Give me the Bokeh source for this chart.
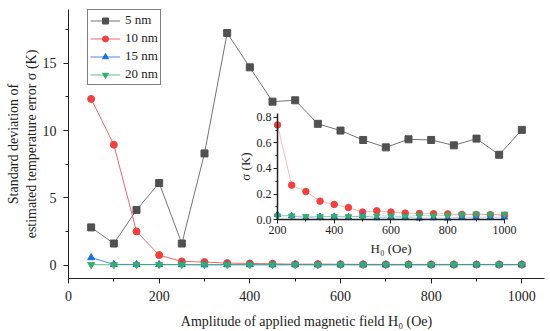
from bokeh.plotting import figure
from bokeh.models import Range1d, LinearAxis, SingleIntervalTicker, NumeralTickFormatter
from bokeh.embed import file_html
from bokeh.resources import INLINE

# ---------------- data ----------------
field = [50, 100, 150, 200, 250, 300, 350, 400, 450, 500,
         550, 600, 650, 700, 750, 800, 850, 900, 950, 1000]
sd_5nm = [2.8, 1.6, 4.1, 6.1, 1.6, 8.3, 17.25, 14.7, 12.15, 12.25,
          10.5, 10.0, 9.3, 8.75, 9.35, 9.3, 8.9, 9.4, 8.2, 10.05]
sd_10nm = [12.35, 8.95, 2.5, 0.74, 0.27, 0.22, 0.145, 0.12, 0.095, 0.06,
           0.07, 0.06, 0.052, 0.048, 0.047, 0.046, 0.042, 0.04, 0.04, 0.035]
sd_15nm = [0.55, 0.05, 0.04, 0.04, 0.03, 0.015, 0.025, 0.025, 0.02, 0.03,
           0.015, 0.02, 0.02, 0.012, 0.015, 0.012, 0.02, 0.02, 0.02, 0.02]
sd_20nm = [0.03, 0.02, 0.025, 0.03, 0.03, 0.025, 0.025, 0.025, 0.025, 0.025,
           0.03, 0.03, 0.025, 0.035, 0.03, 0.035, 0.04, 0.045, 0.04, 0.045]
series_labels = ["5 nm", "10 nm", "15 nm", "20 nm"]
colors = ["#515151", "#F14040", "#1A6FDF", "#37AD6B"]
markers = ["square", "circle", "triangle", "inverted_triangle"]
inset_start = 200

FONT = "Liberation Serif"
AXC = "#222222"

p = figure(width=550, height=331, output_backend="svg", toolbar_location=None,
           x_range=Range1d(0, 1050), y_range=Range1d(-1, 19),
           min_border_left=68, min_border_right=6, min_border_top=9, min_border_bottom=53)
p.outline_line_color = None
p.grid.visible = False
p.background_fill_color = "white"

# inset coordinate system (extra ranges spanning the whole frame)
p.extra_x_ranges = {"ix": Range1d(-536.6, 1141.0)}
p.extra_y_ranges = {"iy": Range1d(-0.458, 1.64)}

# main axes
for ax in (p.xaxis[0], p.yaxis[0]):
    ax.axis_line_color = AXC
    ax.major_tick_line_color = AXC
    ax.minor_tick_line_color = AXC
    ax.major_tick_out = 5
    ax.major_tick_in = 0
    ax.minor_tick_out = 3
    ax.minor_tick_in = 0
    ax.major_label_text_font = FONT
    ax.major_label_text_font_size = "14px"
    ax.major_label_text_color = AXC
    ax.axis_label_text_font = FONT
    ax.axis_label_text_font_size = "14px"
    ax.axis_label_text_font_style = "normal"
    ax.axis_label_text_color = AXC

p.xaxis[0].ticker = SingleIntervalTicker(interval=200, num_minor_ticks=2)
p.yaxis[0].ticker = SingleIntervalTicker(interval=5, num_minor_ticks=2)
p.xaxis[0].axis_label = "Amplitude of applied magnetic field H\u2080 (Oe)"
p.yaxis[0].axis_label = "Standard deviation of\nestimated temperature error \u03c3 (K)"
p.xaxis[0].major_label_standoff = 7
p.xaxis[0].axis_label_standoff = 10
p.yaxis[0].major_label_standoff = 7
p.yaxis[0].axis_label_standoff = 1

# main series
main_vals = [sd_5nm, sd_10nm, sd_15nm, sd_20nm]
for vals, lab, col, mk in zip(main_vals, series_labels, colors, markers):
    p.line(field, vals, line_color=col, line_width=1, line_alpha=0.8, legend_label=lab)
    p.scatter(field, vals, marker=mk, size=7, fill_color=col, line_color=col, legend_label=lab)

# inset series (10, 15, 20 nm from 200 Oe)
i0 = field.index(inset_start)
ix = field[i0:]
for vals, col, mk in zip(main_vals[1:], colors[1:], markers[1:]):
    p.line(ix, vals[i0:], line_color=col, line_width=1, line_alpha=0.35,
           x_range_name="ix", y_range_name="iy")
    p.scatter(ix, vals[i0:], marker=mk, size=6.5, fill_color=col, line_color=col,
              x_range_name="ix", y_range_name="iy")

# inset axes
iax = LinearAxis(x_range_name="ix", y_range_name="iy", fixed_location=0,
                 bounds=(200, 1000),
                 ticker=SingleIntervalTicker(interval=200, num_minor_ticks=2),
                 axis_label="H\u2080 (Oe)")
iay = LinearAxis(x_range_name="ix", y_range_name="iy", fixed_location=200,
                 bounds=(0, 0.83),
                 ticker=SingleIntervalTicker(interval=0.2, num_minor_ticks=2),
                 formatter=NumeralTickFormatter(format="0.0"),
                 axis_label="\u03c3 (K)")
for ax in (iax, iay):
    ax.axis_line_color = AXC
    ax.axis_line_width = 1.5
    ax.major_tick_line_color = AXC
    ax.minor_tick_line_color = AXC
    ax.major_tick_out = 4
    ax.major_tick_in = 0
    ax.minor_tick_out = 2
    ax.minor_tick_in = 0
    ax.major_label_text_font = FONT
    ax.major_label_text_font_size = "12px"
    ax.major_label_text_color = AXC
    ax.axis_label_text_font = FONT
    ax.axis_label_text_font_size = "13px"
    ax.axis_label_text_font_style = "normal"
    ax.axis_label_text_color = AXC
    ax.major_label_standoff = 2
    ax.axis_label_standoff = 4
iay.axis_label_standoff = 1
p.add_layout(iax, "below")
p.add_layout(iay, "left")

# legend
lg = p.legend[0]
lg.location = (19, 193)
lg.border_line_color = "black"
lg.border_line_width = 1
lg.background_fill_alpha = 1
lg.label_text_font = FONT
lg.label_text_font_size = "13px"
lg.label_text_color = AXC
lg.glyph_width = 30
lg.glyph_height = 15
lg.label_height = 15
lg.label_standoff = 5
lg.spacing = 2
lg.padding = 2
lg.margin = 0

open("out.html", "w").write(file_html(p, INLINE))
